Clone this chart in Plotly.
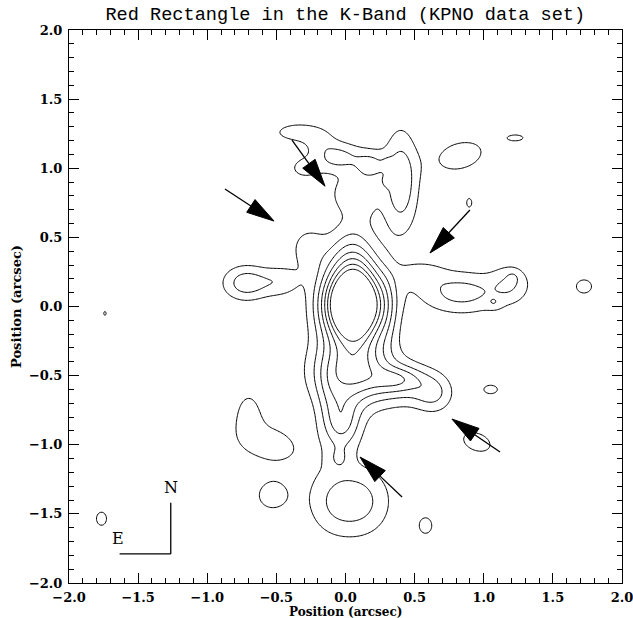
import numpy as np
import plotly.graph_objects as go

# ---- emission components (arcsec; amplitude in contour units)
# core / main ridge
core_x   = [0.055, 0.05, 0.30, 0.05, -0.03, -0.05, -0.12]
core_y   = [0.01, 0.36, 0.00, -0.47, -0.84, -1.10, -0.60]
core_sx  = [0.15, 0.12, 0.06, 0.19, 0.10, 0.06, 0.07]
core_sy  = [0.19, 0.18, 0.20, 0.17, 0.14, 0.06, 0.15]
core_amp = [12.4, 2.4, 0.9, 5.0, 3.2, 1.0, 0.8]

# south blob, south-east lobe, west lobe, west flank
lobe_x   = [-0.08, 0.14, 0.42, 0.64, 0.38, -0.72, -0.47, -0.27]
lobe_y   = [-1.41, -1.41, -0.56, -0.63, -0.52, 0.17, 0.18, 0.42]
lobe_sx  = [0.15, 0.15, 0.16, 0.10, 0.12, 0.12, 0.10, 0.10]
lobe_sy  = [0.18, 0.18, 0.11, 0.10, 0.06, 0.09, 0.08, 0.12]
lobe_amp = [1.8, 1.8, 2.0, 1.9, 1.4, 2.6, 1.5, 1.4]

# northern structure
north_x   = [-0.34, -0.05, 0.18, 0.40, 0.31, 0.30, -0.30, 0.00, 0.12, -0.19]
north_y   = [1.26, 1.08, 1.02, 0.90, 1.03, 0.90, 1.00, 0.82, 0.78, 1.19]
north_sx  = [0.13, 0.12, 0.08, 0.09, 0.03, 0.03, 0.10, 0.09, 0.10, 0.08]
north_sy  = [0.05, 0.08, 0.08, 0.26, 0.03, 0.03, 0.07, 0.09, 0.12, 0.06]
north_amp = [1.7, 2.3, 2.0, 2.8, 0.8, 0.8, 1.2, 1.12, 1.1, 1.0]

# eastern extension
east_x   = [0.84, 1.20, 0.55, 1.075, 1.21]
east_y   = [0.10, 0.17, 0.24, 0.02, 0.21]
east_sx  = [0.22, 0.10, 0.12, 0.04, 0.03]
east_sy  = [0.11, 0.10, 0.07, 0.03, 0.03]
east_amp = [2.4, 1.6, 1.2, 0.7, 0.6]

# isolated knots
knot_x   = [-0.70, -0.56, -0.53, 0.58, 0.95, 1.05, 1.725, 1.235, 0.83, 0.895, -1.765, -1.74]
knot_y   = [-0.76, -0.99, -1.37, -1.585, -0.98, -0.60, 0.145, 1.22, 1.09, 0.75, -1.535, -0.05]
knot_sx  = [0.07, 0.22, 0.11, 0.06, 0.12, 0.08, 0.075, 0.09, 0.17, 0.03, 0.06, 0.015]
knot_sy  = [0.12, 0.13, 0.10, 0.075, 0.075, 0.05, 0.065, 0.035, 0.10, 0.05, 0.078, 0.025]
knot_amp = [1.25, 1.4, 1.4, 1.3, 1.4, 1.2, 1.3, 1.12, 1.5, 1.2, 1.2, 1.2]
knot_ang = [0, -15, 0, 0, -20, 0, 0, 0, 15, 0, 0, 0]

contour_levels = [1, 2, 3, 4, 5, 6, 7]

# arrows: tail -> tip (arcsec)
arrow_tail_x = [-0.387, -0.872, 0.900, 1.118, 0.409]
arrow_tail_y = [1.204, 0.850, 0.698, -1.053, -1.378]
arrow_tip_x  = [-0.148, -0.517, 0.611, 0.770, 0.105]
arrow_tip_y  = [0.870, 0.618, 0.387, -0.814, -1.089]

# compass
compass_corner = (-1.264, -1.790)
compass_len = 0.37

tick_vals = [-2.0, -1.5, -1.0, -0.5, 0.0, 0.5, 1.0, 1.5, 2.0]
tick_text = ["\u22122.0", "\u22121.5", "\u22121.0", "\u22120.5", "0.0", "0.5", "1.0", "1.5", "2.0"]

# ---- build map
gx = np.linspace(-2, 2, 401)
gy = np.linspace(-2, 2, 401)
X, Y = np.meshgrid(gx, gy)
Z = np.zeros_like(X)


def add(xs, ys, sxs, sys_, amps, angs=None):
    global Z
    if angs is None:
        angs = [0] * len(xs)
    for x0, y0, sx, sy, a, ang in zip(xs, ys, sxs, sys_, amps, angs):
        t = np.deg2rad(ang)
        dx, dy = X - x0, Y - y0
        u = dx * np.cos(t) + dy * np.sin(t)
        v = -dx * np.sin(t) + dy * np.cos(t)
        Z = Z + a * np.exp(-0.5 * ((u / sx) ** 2 + (v / sy) ** 2))


add(core_x, core_y, core_sx, core_sy, core_amp)
add(lobe_x, lobe_y, lobe_sx, lobe_sy, lobe_amp)
add(north_x, north_y, north_sx, north_sy, north_amp)
add(east_x, east_y, east_sx, east_sy, east_amp)
add(knot_x, knot_y, knot_sx, knot_sy, knot_amp, knot_ang)

fig = go.Figure()
fig.add_trace(go.Contour(
    x=gx, y=gy, z=Z,
    contours=dict(start=contour_levels[0], end=contour_levels[-1],
                  size=contour_levels[1] - contour_levels[0], coloring="lines"),
    colorscale=[[0, "black"], [1, "black"]],
    line=dict(width=1, color="black"),
    showscale=False, hoverinfo="skip",
))

shapes = []
head_len, head_hw = 0.20, 0.055
for tx, ty, hx, hy in zip(arrow_tail_x, arrow_tail_y, arrow_tip_x, arrow_tip_y):
    d = np.array([hx - tx, hy - ty])
    d = d / np.hypot(*d)
    n = np.array([-d[1], d[0]])
    base = np.array([hx, hy]) - head_len * d
    p1 = base + head_hw * n
    p2 = base - head_hw * n
    shapes.append(dict(type="line", x0=tx, y0=ty, x1=base[0], y1=base[1],
                       line=dict(color="black", width=1.3)))
    shapes.append(dict(type="path",
                       path=f"M{hx},{hy} L{p1[0]},{p1[1]} L{p2[0]},{p2[1]} Z",
                       fillcolor="black", line=dict(color="black", width=1)))
cx, cy = compass_corner
shapes.append(dict(type="line", x0=cx, y0=cy, x1=cx, y1=cy + compass_len,
                   line=dict(color="black", width=1.3)))
shapes.append(dict(type="line", x0=cx, y0=cy, x1=cx - compass_len, y1=cy,
                   line=dict(color="black", width=1.3)))

annotations = [
    dict(x=cx, y=cy + compass_len + 0.11, text="N", showarrow=False,
         font=dict(family="DejaVu Serif", size=16, color="black")),
    dict(x=cx - compass_len - 0.01, y=cy + 0.11, text="E", showarrow=False,
         font=dict(family="DejaVu Serif", size=16, color="black")),
    dict(xref="paper", yref="paper", x=0.5, y=-0.0362, yanchor="top",
         text="Position (arcsec)", showarrow=False,
         font=dict(family="DejaVu Serif", size=12, color="black", weight="bold")),
]

axis_common = dict(
    range=[-2, 2], tickvals=tick_vals, ticktext=tick_text,
    ticks="inside", ticklen=10, tickwidth=1, tickcolor="black",
    showline=True, linecolor="black", linewidth=1, mirror="ticks",
    showgrid=False, zeroline=False, automargin=False, ticklabeloverflow="allow",
    minor=dict(ticks="inside", ticklen=5, tickwidth=1, tickcolor="black", dtick=0.1, tick0=0, showgrid=False),
    tickfont=dict(family="DejaVu Serif", size=13, color="black", weight="bold"),
)

fig.update_layout(
    width=633, height=618,
    margin=dict(l=69, r=11, t=30, b=35, autoexpand=False),
    paper_bgcolor="white", plot_bgcolor="white",
    showlegend=False,
    title=dict(text="Red Rectangle in the K-Band (KPNO data set)", x=0.5455, xanchor="center",
               y=0.978, yanchor="middle", automargin=False,
               font=dict(family="Liberation Mono", size=18.6, color="black")),
    xaxis=dict(axis_common, ticklabelstandoff=2),
    yaxis=dict(axis_common, ticklabelstandoff=3,
               title=dict(text="Position (arcsec)", standoff=4,
                          font=dict(family="DejaVu Serif", size=13, color="black", weight="bold"))),
    shapes=shapes, annotations=annotations,
)

fig.write_html("out.html")
